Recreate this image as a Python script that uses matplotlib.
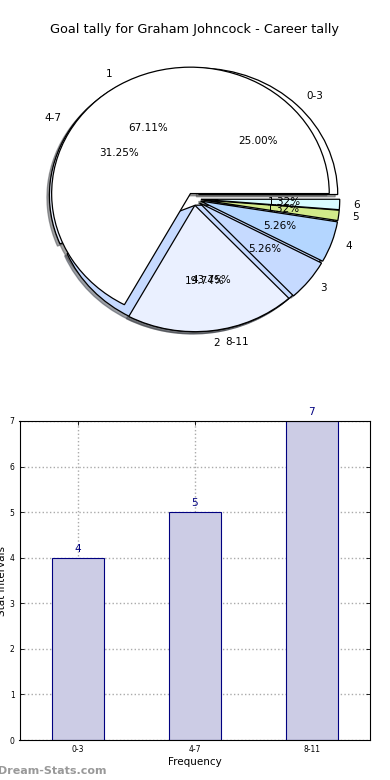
import matplotlib
matplotlib.use("Agg")
import matplotlib.pyplot as plt

# Data
goal_labels = ["1", "2", "3", "4", "5", "6"]
goal_counts = [51, 15, 4, 4, 1, 1]
interval_labels = ["0-3", "4-7", "8-11"]
interval_counts = [4, 5, 7]

colors = ["#ffffff", "#eaf0ff", "#c6daff", "#b4d6ff", "#d2ea8a", "#d8fcff"]

fig = plt.figure(figsize=(3.9, 7.8), dpi=100)

# Pie axes
axp = fig.add_axes([20.5 / 390, 1 - 357 / 780, 347 / 390, 316 / 780])
wp = {"edgecolor": "black", "linewidth": 0.9}
sh = {"ox": -0.013, "oy": -0.013}
axp.pie(interval_counts, labels=interval_labels, explode=[0.05] * len(interval_counts),
        colors=colors[:len(interval_counts)], autopct="%1.2f%%", shadow=sh,
        wedgeprops=wp, textprops={"fontsize": 7.5})
axp.pie(goal_counts, labels=goal_labels, explode=[0.05] * len(goal_counts),
        colors=colors, autopct="%1.2f%%", shadow=sh,
        wedgeprops=wp, textprops={"fontsize": 7.5})
axp.set_aspect("auto")
axp.set_xlim(-1.25, 1.25)
axp.set_ylim(-1.25, 1.25)
fig.text(0.5, 1 - 30 / 780, "Goal tally for Graham Johncock - Career tally",
         ha="center", va="center", fontsize=9.3)

# Bar axes
axb = fig.add_axes([19.5 / 390, 1 - 740 / 780, 350.5 / 390, 319 / 780])
x = list(range(len(interval_labels)))
bars = axb.bar(x, interval_counts, width=0.445, color="#ccccE5", edgecolor="#000080",
               linewidth=0.8, zorder=2)
for xi, v in zip(x, interval_counts):
    axb.text(xi, v + 0.08, str(v), ha="center", va="bottom", color="#000080", fontsize=7.5)
axb.set_xlim(-0.5, 2.5)
axb.set_ylim(0, 7)
axb.set_xticks(x)
axb.set_xticklabels(interval_labels)
axb.set_yticks(range(0, 8))
axb.tick_params(axis="both", labelsize=5.5, direction="in", top=True, right=True,
                length=3, width=0.6)
axb.grid(True, linestyle=":", color="#aaaaaa", linewidth=1.0, zorder=0)
axb.set_axisbelow(True)
axb.set_xlabel("Frequency", fontsize=7.5, labelpad=2)
axb.set_ylabel("Stat Intervals", fontsize=7.5, labelpad=2)
for s in axb.spines.values():
    s.set_linewidth(0.8)

fig.text(-0.005, 1 - 771 / 780, "Dream-Stats.com", ha="left", va="center",
         fontsize=8, color="#999999", fontweight="bold")

fig.savefig("out.png", dpi=100)
